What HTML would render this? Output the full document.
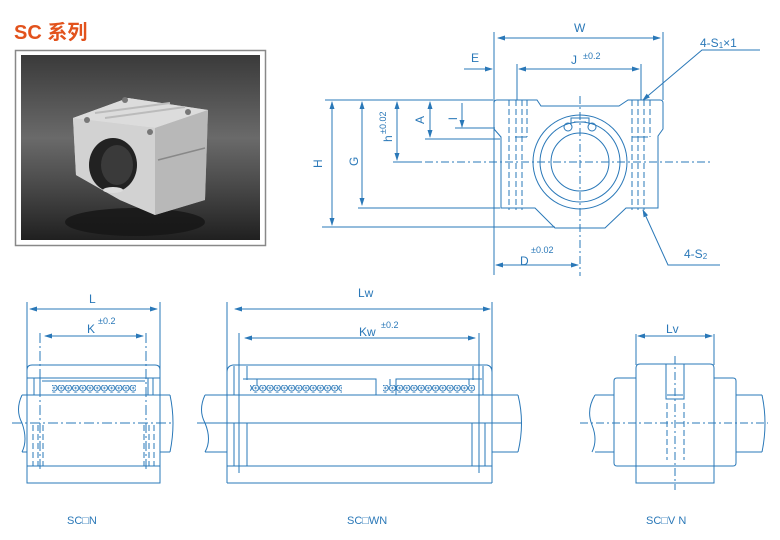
<!DOCTYPE html>
<html><head><meta charset="utf-8"><style>
html,body{margin:0;padding:0;background:#fff;width:780px;height:540px;overflow:hidden}
svg{display:block}
text{font-family:"Liberation Sans",sans-serif;fill:#2a78b8}
</style></head><body>
<svg width="780" height="540" viewBox="0 0 780 540" xmlns="http://www.w3.org/2000/svg">
<defs>
<marker id="a" markerWidth="8" markerHeight="6" refX="7" refY="3" orient="auto-start-reverse" markerUnits="userSpaceOnUse"><path d="M0,0.5 L8,3 L0,5.5z" fill="#2a78b8"/></marker>
<pattern id="balls" x="0" y="0" width="7.2" height="8" patternUnits="userSpaceOnUse"><circle cx="3.6" cy="4" r="3.1" fill="#fff" stroke="#2a78b8" stroke-width="1"/><path d="M2.2,4H5M3.6,2.6V5.4" stroke="#2a78b8" stroke-width="0.8"/></pattern>
<linearGradient id="bg" x1="0" y1="0" x2="0" y2="1"><stop offset="0" stop-color="#3a3a3a"/><stop offset="0.45" stop-color="#6a6a6a"/><stop offset="0.7" stop-color="#4a4a4a"/><stop offset="1" stop-color="#202020"/></linearGradient>
<linearGradient id="met" x1="0" y1="0" x2="1" y2="1"><stop offset="0" stop-color="#e8e8e8"/><stop offset="1" stop-color="#9a9a9a"/></linearGradient>
</defs>

<text x="14" y="39" font-size="20" font-weight="bold" style="fill:#e2521c;font-family:'Liberation Sans','Noto Sans CJK SC',sans-serif">SC 系列</text>

<rect x="15.5" y="50.5" width="250" height="195" fill="#fff" stroke="#888" stroke-width="1.5"/>
<rect x="21" y="55" width="239" height="185" fill="url(#bg)"/>
<ellipse cx="135" cy="222" rx="70" ry="14" fill="#151515" opacity="0.8"/>
<polygon points="73,118 128,98 208,110 205,200 155,215 120,200 76,175" fill="url(#met)"/>
<polygon points="73,118 128,98 208,110 155,128" fill="#dcdcdc"/>
<polygon points="155,128 208,110 205,200 155,215" fill="#b8b8b8"/>
<polygon points="73,118 155,128 155,215 120,200 76,175" fill="#d2d2d2"/>
<path d="M158,160 L205,148" stroke="#888" stroke-width="1.5"/>
<path d="M95,113 L170,103 M105,118 L185,107" stroke="#bbb" stroke-width="2"/>
<ellipse cx="113" cy="165" rx="24" ry="27" fill="#222"/>
<ellipse cx="117" cy="165" rx="16" ry="20" fill="#3a3a3a"/>
<ellipse cx="113" cy="190" rx="10" ry="3" fill="#ddd"/>
<circle cx="87" cy="120" r="3" fill="#777"/><circle cx="150" cy="132" r="3" fill="#777"/><circle cx="125" cy="100" r="3" fill="#777"/><circle cx="188" cy="112" r="3" fill="#777"/>

<g fill="none" stroke="#2a78b8" stroke-width="1">
<path d="M497,100 L537,100 L541,106 L619,106 L628,100 L660,100 Q663,100 663,103 L663,129 L658,136 L658,208 L626,208 L605,228 L555,228 L535,208 L501,208 L501,137 L494,129 L494,103 Q494,100 497,100Z"/>
<circle cx="580" cy="162" r="47"/>
<circle cx="580" cy="162" r="40"/>
<circle cx="580" cy="162" r="29"/>
<path d="M571,125 L571,118 L589,118 L589,125" />
<path d="M574,122 L586,122"/>
<circle cx="568" cy="127" r="4"/><circle cx="592" cy="127" r="4"/>
<g stroke-dasharray="8,3,2,3">
<path d="M393,162 H712"/><path d="M580,96 V276"/>
</g>
<g stroke-dasharray="6,3">
<path d="M509,100 V210 M516,100 V210 M522,100 V210 M527,100 V137"/>
<path d="M632,100 V210 M638,100 V210 M644,100 V210 M650,100 V137"/>
</g>
<path d="M515,137 H527 M632,137 H648"/>
<path d="M494,32 V275 M663,32 V100 M517,64 V100 M641,64 V100"/>
<path d="M325,100 H493 M322,227 H555 M358,208 H500 M425,139 H500 M455,128 H495 M393,162 H420"/>
<path d="M498,38 H660" marker-start="url(#a)" marker-end="url(#a)"/>
<path d="M464,69 H492" marker-end="url(#a)"/>
<path d="M519,69 H639" marker-start="url(#a)" marker-end="url(#a)"/>
<path d="M332,102 V225" marker-start="url(#a)" marker-end="url(#a)"/>
<path d="M362,102 V205" marker-start="url(#a)" marker-end="url(#a)"/>
<path d="M397,102 V160" marker-start="url(#a)" marker-end="url(#a)"/>
<path d="M430,102 V137" marker-start="url(#a)" marker-end="url(#a)"/>
<path d="M462,103 V127" marker-end="url(#a)"/>
<path d="M496,265 H578" marker-start="url(#a)" marker-end="url(#a)"/>
<path d="M760,50 H702 L643,100" marker-end="url(#a)"/>
<path d="M720,265 H668 L643,210" marker-end="url(#a)"/>

<path d="M27,302 V378 M160,302 V378"/>
<path d="M30,309 H157" marker-start="url(#a)" marker-end="url(#a)"/>
<path d="M45,336 H143" marker-start="url(#a)" marker-end="url(#a)"/>
<g stroke-dasharray="10,3,2,3"><path d="M40,333 V470 M146,333 V470"/><path d="M12,423 H172"/></g>
<path d="M32,365 H155 Q160,365 160,370 V378 H27 V370 Q27,365 32,365Z"/>
<path d="M27,378 V483 H160 V378 M27,466 H160"/>
<path d="M34,378 V395 M40,378 V395 M148,378 V395 M153,378 V395 M42,381 H145"/>
<rect x="52" y="385" width="84" height="8" fill="url(#balls)" stroke="none"/>
<path d="M22,395 H170 M22,452 H27 M160,452 H170"/>
<path d="M22,395 Q15,410 22,423 Q28,440 22,452 M170,395 Q176,423 170,452"/>
<g stroke-dasharray="6,3"><path d="M33,425 V466 M38,425 V466 M43,425 V466 M144,425 V466 M149,425 V466 M154,425 V466"/></g>

<path d="M227,302 V483 M492,302 V483"/>
<path d="M235,309 H490" marker-start="url(#a)" marker-end="url(#a)"/>
<path d="M245,338 H475" marker-start="url(#a)" marker-end="url(#a)"/>
<path d="M239,333 V473 M479,333 V473"/>
<path d="M233,365 H487 Q492,366 492,372 M227,372 Q227,366 233,365"/>
<path d="M227,483 H492 M227,466 H492 M227,395 H492"/>
<path d="M234,366 V395 M247,366 V380 M483,366 V395 M473,366 V380"/>
<path d="M243,379 H376 V395 M396,395 V379 H482"/>
<path d="M257,379 V385 M390,379 V385 M469,379 V385"/>
<rect x="250" y="385" width="92" height="8" fill="url(#balls)" stroke="none"/>
<rect x="383" y="385" width="92" height="8" fill="url(#balls)" stroke="none"/>
<path d="M205,395 H227 M492,395 H518 M205,452 H227 M492,452 H518"/>
<path d="M205,395 Q198,410 205,423 Q212,440 205,452 M518,395 Q525,423 518,452"/>
<path d="M197,423 H522"/>
<path d="M234,423 V466 M247,423 V466 M472,423 V466 M485,423 V466"/>

<path d="M636,334 V365 M714,334 V365"/>
<path d="M638,336 H712" marker-start="url(#a)" marker-end="url(#a)"/>
<path d="M640,364 H710 Q714,364 714,368 V483 H636 V368 Q636,364 640,364Z"/>
<path d="M636,466 H714"/>
<path d="M636,378 H617 Q614,378 614,381 V463 Q614,466 617,466 H636 M714,378 H733 Q736,378 736,381 V463 Q736,466 733,466 H714"/>
<path d="M595,395 H614 M736,395 H762 M595,452 H614 M736,452 H762"/>
<path d="M595,395 Q586,410 592,425 Q598,440 592,452 M762,395 Q768,423 762,452"/>
<path d="M666,364 V399 H684 V364 M667,395 H683"/>
<g stroke-dasharray="8,3,2,3"><path d="M675,356 V490 M580,423 H768"/></g>
<g stroke-dasharray="6,3"><path d="M667,403 V460 M684,403 V460"/></g>
</g>

<g font-size="12">
<text x="574" y="32">W</text>
<text x="471" y="62">E</text>
<text x="571" y="64">J</text><text x="583" y="59" font-size="9">±0.2</text>
<text x="700" y="47">4-S<tspan font-size="8" dy="1">1</tspan><tspan dy="-1">×1</tspan></text>
<text x="684" y="258">4-S<tspan font-size="8" dy="1">2</tspan></text>
<text x="520" y="265">D</text><text x="531" y="253" font-size="9">±0.02</text>
<text transform="translate(322,168) rotate(-90)">H</text>
<text transform="translate(358,166) rotate(-90)">G</text>
<text transform="translate(392,142) rotate(-90)">h</text>
<text transform="translate(386,134) rotate(-90)" font-size="9">±0.02</text>
<text transform="translate(424,124) rotate(-90)">A</text>
<text transform="translate(457,120) rotate(-90)">l</text>
<text x="89" y="303">L</text>
<text x="87" y="333">K</text><text x="98" y="324" font-size="9">±0.2</text>
<text x="358" y="297">Lw</text>
<text x="359" y="336">Kw</text><text x="381" y="328" font-size="9">±0.2</text>
<text x="666" y="333">Lv</text>
<text x="67" y="524" font-size="11">SC□N</text>
<text x="347" y="524" font-size="11">SC□WN</text>
<text x="646" y="524" font-size="11">SC□V N</text>
</g>
</svg>
</body></html>
